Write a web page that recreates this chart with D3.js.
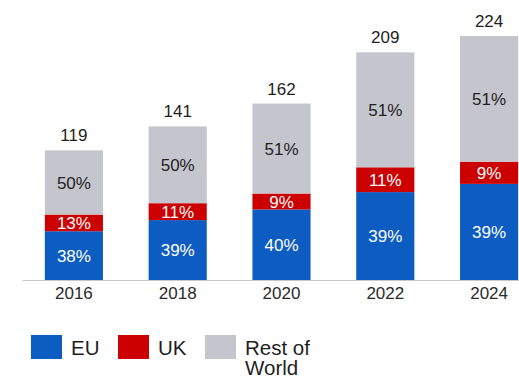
<!DOCTYPE html>
<html>
<head>
<meta charset="utf-8">
<script src="https://cdn.jsdelivr.net/npm/d3@7"></script>
<style>
  html, body { margin: 0; padding: 0; background: #fff; }
  svg { display: block; font-family: "Liberation Sans", Arial, Helvetica, sans-serif; }
</style>
</head>
<body>
<svg id="chart" width="519" height="379"></svg>
<script>
const years = ["2016", "2018", "2020", "2022", "2024"];
const totals = [119, 141, 162, 209, 224];
const euPct = [38, 39, 40, 39, 39];
const ukPct = [13, 11, 9, 11, 9];
const rowPct = [50, 50, 51, 51, 51];
const seriesNames = ["EU", "UK", "Rest of World"];
const seriesColors = ["#0d5cc2", "#cc0000", "#c5c6cd"];
const textColors = ["#ffffff", "#ffffff", "#222222"];

const svg = d3.select("#chart");

const rows = years.map((y, i) => {
  const s = euPct[i] + ukPct[i] + rowPct[i];
  return {
    year: y, total: totals[i],
    pcts: [euPct[i], ukPct[i], rowPct[i]],
    EU: totals[i] * euPct[i] / s,
    UK: totals[i] * ukPct[i] / s,
    "Rest of World": totals[i] * rowPct[i] / s
  };
});

const layers = d3.stack().keys(seriesNames)(rows);

const x = d3.scaleBand().domain(years).range([22, 541]).paddingInner(0.44).paddingOuter(0.22);
const y = d3.scaleLinear().domain([0, d3.max(totals)]).range([280, 36]);

// bars
layers.forEach((layer, k) => {
  const g = svg.append("g");
  g.selectAll("rect").data(layer).enter().append("rect")
    .attr("x", d => x(d.data.year))
    .attr("width", x.bandwidth())
    .attr("y", d => y(d[1]))
    .attr("height", d => y(d[0]) - y(d[1]))
    .attr("fill", seriesColors[k]);
  g.selectAll("text").data(layer).enter().append("text")
    .attr("x", d => x(d.data.year) + x.bandwidth() / 2)
    .attr("y", d => (y(d[0]) + y(d[1])) / 2)
    .attr("dy", "0.36em")
    .attr("text-anchor", "middle")
    .attr("font-size", 17)
    .attr("fill", textColors[k])
    .text(d => d.data.pcts[k] + "%");
});

// axis
const axis = svg.append("g")
  .attr("transform", "translate(0,280)")
  .call(d3.axisBottom(x).tickSize(0).tickSizeOuter(0).tickPadding(7));
axis.select(".domain").attr("stroke", "#c8c8cc").attr("stroke-width", 1.2);
axis.selectAll("text")
  .attr("font-size", 17)
  .attr("font-family", "'Liberation Sans', Arial, sans-serif")
  .attr("fill", "#2a2a2a")
  .attr("dy", "0.72em");

// totals
svg.append("g").selectAll("text").data(rows).enter().append("text")
  .attr("x", d => x(d.year) + x.bandwidth() / 2)
  .attr("y", d => y(d.total) - 9)
  .attr("text-anchor", "middle")
  .attr("font-size", 17)
  .attr("fill", "#1e1e1e")
  .text(d => d.total);

// legend
const legendX = [31, 118, 205];
const legend = svg.append("g");
seriesNames.forEach((name, k) => {
  legend.append("rect")
    .attr("x", legendX[k]).attr("y", 335)
    .attr("width", 31).attr("height", 24)
    .attr("fill", seriesColors[k]);
  const words = name === "Rest of World" ? ["Rest of", "World"] : [name];
  words.forEach((w, j) => {
    legend.append("text")
      .attr("x", legendX[k] + 40).attr("y", 355 + j * 20)
      .attr("font-size", 20.5)
      .attr("fill", "#1e1e1e")
      .text(w);
  });
});
</script>
</body>
</html>
